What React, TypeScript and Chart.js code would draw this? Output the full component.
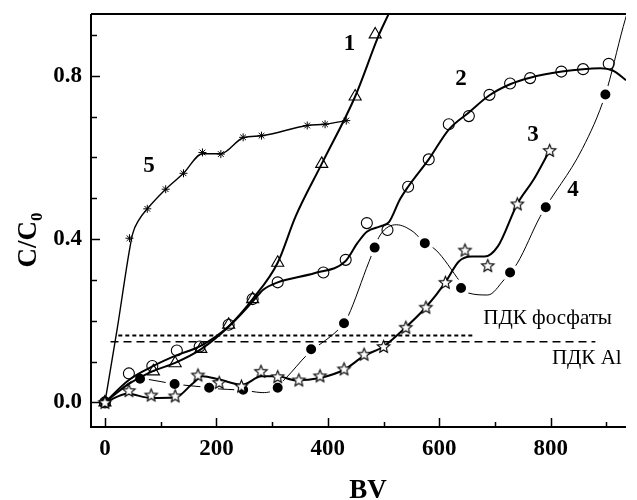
import React, { useEffect, useRef } from "react";
import { Chart, registerables } from "chart.js";

Chart.register(...registerables);

// ---- axis ticks ----
const xTickValues = [0, 100, 200, 300, 400, 500, 600, 700, 800, 900];
const xLabelValues = [0, 200, 400, 600, 800];
const yTickValues = [0, 0.1, 0.2, 0.3, 0.4, 0.5, 0.6, 0.7, 0.8, 0.9];
const yLabelValues = [0, 0.4, 0.8];

// ---- measured points (BV, C/C0) ----
const marks1: [number, number][] = [
  [0, 0], [87, 0.076], [126, 0.096], [172, 0.131], [222, 0.19], [265, 0.253],
  [310, 0.342], [389, 0.584], [449, 0.749], [485, 0.901],
];
const marks2: [number, number][] = [
  [0, 0], [43, 0.071], [85, 0.089], [129, 0.127], [170, 0.137], [222, 0.19],
  [265, 0.253], [310, 0.294], [392, 0.318], [432, 0.349], [470, 0.439],
  [507, 0.422], [544, 0.528], [581, 0.595], [617, 0.681], [653, 0.701],
  [690, 0.753], [727, 0.781], [763, 0.794], [819, 0.81], [858, 0.816], [904, 0.829],
];
const marks3: [number, number][] = [
  [0, 0], [43, 0.029], [83, 0.018], [126, 0.016], [167, 0.067], [205, 0.049],
  [245, 0.04], [280, 0.076], [310, 0.063], [348, 0.055], [386, 0.065],
  [429, 0.082], [465, 0.118], [500, 0.137], [540, 0.184], [576, 0.233],
  [611, 0.294], [646, 0.373], [687, 0.335], [740, 0.486], [798, 0.617],
];
const marks4: [number, number][] = [
  [0, 0], [63, 0.058], [125, 0.045], [187, 0.036], [248, 0.031], [310, 0.036],
  [370, 0.13], [429, 0.194], [484, 0.379], [574, 0.39], [639, 0.28],
  [727, 0.318], [791, 0.478], [898, 0.754],
];
const marks5: [number, number][] = [
  [0, 0], [44, 0.402], [76, 0.474], [109, 0.522], [141, 0.561], [175, 0.612],
  [208, 0.608], [248, 0.649], [281, 0.653], [363, 0.678], [395, 0.681], [433, 0.69],
];

// ---- fitted curves ----
const fit1: [number, number][] = [
  [0, 0], [43, 0.045], [87, 0.077], [126, 0.097], [172, 0.13], [222, 0.186],
  [265, 0.253], [310, 0.342], [342, 0.455], [389, 0.584], [449, 0.749],
  [492, 0.901], [512, 0.96], [530, 1.02],
];
const fit2: [number, number][] = [
  [0, 0], [43, 0.055], [85, 0.088], [128, 0.115], [170, 0.137], [222, 0.186],
  [265, 0.247], [284, 0.276], [310, 0.294], [377, 0.317], [431, 0.345],
  [453, 0.39], [470, 0.418], [494, 0.431], [510, 0.442], [529, 0.496],
  [544, 0.528], [581, 0.595], [617, 0.668], [653, 0.71], [690, 0.752],
  [727, 0.779], [763, 0.795], [820, 0.81], [858, 0.816], [889, 0.818],
  [912, 0.812], [935, 0.789],
];
const fit3: [number, number][] = [
  [0, 0], [41, 0.021], [82, 0.011], [126, 0.012], [158, 0.047], [175, 0.064],
  [205, 0.056], [246, 0.043], [281, 0.064], [310, 0.064], [342, 0.054],
  [386, 0.06], [429, 0.08], [465, 0.114], [500, 0.137], [540, 0.184],
  [576, 0.233], [611, 0.294], [635, 0.345], [658, 0.357], [681, 0.357],
  [705, 0.382], [740, 0.486], [769, 0.545], [798, 0.617],
];
const fit4: [number, number][] = [
  [0, 0], [63, 0.058], [79, 0.056], [108, 0.049], [137, 0.043], [175, 0.038],
  [205, 0.033], [234, 0.031], [263, 0.027], [282, 0.024], [298, 0.027],
  [325, 0.06], [363, 0.117], [429, 0.194], [436, 0.21], [474, 0.345],
  [494, 0.41], [523, 0.435], [553, 0.418], [574, 0.39], [594, 0.373],
  [637, 0.296], [652, 0.268], [687, 0.263], [716, 0.3], [740, 0.341],
  [781, 0.455], [857, 0.622], [898, 0.754], [930, 0.92], [945, 0.99],
];
const fit5: [number, number][] = [
  [0, 0], [22, 0.18], [44, 0.373], [50, 0.414], [61, 0.447], [76, 0.474],
  [109, 0.522], [141, 0.561], [175, 0.609], [208, 0.609], [248, 0.648],
  [281, 0.653], [363, 0.678], [395, 0.681], [433, 0.69],
];

// ---- reference (limit) lines ----
const pdkPhosphate: [number, number][] = [[24, 0.164], [662, 0.164]];
const pdkAl: [number, number][] = [[10, 0.1485], [880, 0.1485]];

// ---- annotations ----
const curveNames = ["1", "2", "3", "4", "5"];
const curveNameBV = [439, 639, 768, 840, 79];
const curveNameC = [0.878, 0.792, 0.655, 0.52, 0.579];
const limitNames = ["ПДК фосфаты", "ПДК Al"];
const limitNameBV = [679, 802];
const limitNameC = [0.205, 0.107];

const FONT = "'Liberation Serif', 'Times New Roman', serif";

const toXY = (a: [number, number][]) => a.map(([x, y]) => ({ x, y }));

function makeStar(r: number): HTMLCanvasElement {
  const size = Math.ceil(r * 2 + 4);
  const c = document.createElement("canvas");
  c.width = size;
  c.height = size;
  const ctx = c.getContext("2d")!;
  const cx = size / 2;
  const cy = size / 2 + 0.5;
  ctx.beginPath();
  for (let i = 0; i < 10; i++) {
    const ang = -Math.PI / 2 + (i * Math.PI) / 5;
    const rr = i % 2 === 0 ? r : r * 0.45;
    ctx.lineTo(cx + rr * Math.cos(ang), cy + rr * Math.sin(ang));
  }
  ctx.closePath();
  ctx.fillStyle = "#fff";
  ctx.fill();
  ctx.strokeStyle = "#000";
  ctx.lineWidth = 1.1;
  ctx.stroke();
  return c;
}

const overlayPlugin = {
  id: "overlay",
  afterDraw(chart: any) {
    const { ctx, chartArea } = chart;
    const { left, right, top, bottom } = chartArea;
    const xs = chart.scales.x;
    const ys = chart.scales.y;
    ctx.save();
    ctx.strokeStyle = "#000";
    ctx.lineWidth = 2;
    ctx.beginPath();
    ctx.moveTo(left, top);
    ctx.lineTo(right, top);
    ctx.moveTo(left, top);
    ctx.lineTo(left, bottom);
    ctx.lineTo(right, bottom);
    ctx.stroke();

    ctx.lineWidth = 1.5;
    ctx.beginPath();
    for (const v of xTickValues) {
      const px = Math.round(xs.getPixelForValue(v)) + 0.5;
      const len = xLabelValues.includes(v) ? 9 : 5;
      ctx.moveTo(px, bottom);
      ctx.lineTo(px, bottom - len);
    }
    for (const v of yTickValues) {
      const py = Math.round(ys.getPixelForValue(v)) + 0.5;
      const isMajor = yLabelValues.some((m) => Math.abs(m - v) < 1e-9);
      const len = isMajor ? 9 : 6;
      ctx.moveTo(left, py);
      ctx.lineTo(left + len, py);
    }
    ctx.stroke();

    ctx.fillStyle = "#000";
    ctx.font = `bold 23px ${FONT}`;
    ctx.textAlign = "center";
    ctx.textBaseline = "middle";
    curveNames.forEach((n, i) => {
      ctx.fillText(n, xs.getPixelForValue(curveNameBV[i]), ys.getPixelForValue(curveNameC[i]));
    });

    ctx.font = `21px ${FONT}`;
    ctx.textAlign = "left";
    limitNames.forEach((n, i) => {
      ctx.fillText(n, xs.getPixelForValue(limitNameBV[i]), ys.getPixelForValue(limitNameC[i]));
    });

    // x title
    ctx.font = `bold 27px ${FONT}`;
    ctx.textAlign = "center";
    ctx.textBaseline = "alphabetic";
    ctx.fillText("BV", 368, 498);

    // y title C/C0 (rotated)
    ctx.save();
    ctx.translate(36, 240);
    ctx.rotate(-Math.PI / 2);
    ctx.font = `bold 27px ${FONT}`;
    const w1 = ctx.measureText("C/C").width;
    ctx.font = `bold 17px ${FONT}`;
    const w2 = ctx.measureText("0").width;
    const start = -(w1 + w2) / 2;
    ctx.textAlign = "left";
    ctx.font = `bold 27px ${FONT}`;
    ctx.fillText("C/C", start, 0);
    ctx.font = `bold 17px ${FONT}`;
    ctx.fillText("0", start + w1, 6);
    ctx.restore();

    ctx.restore();
  },
};

export default function App() {
  const ref = useRef<HTMLCanvasElement | null>(null);

  useEffect(() => {
    if (!ref.current) return;
    const star = makeStar(6.5);
    const lineDs = (data: [number, number][], width: number, order: number, extra: any = {}) => ({
      data: toXY(data),
      borderColor: "#000",
      borderWidth: width,
      pointRadius: 0,
      pointHoverRadius: 0,
      fill: false,
      cubicInterpolationMode: "monotone",
      order,
      ...extra,
    });
    const markDs = (data: [number, number][], order: number, extra: any) => ({
      data: toXY(data),
      showLine: false,
      order,
      ...extra,
    });

    const chart = new Chart(ref.current, {
      type: "line",
      data: {
        datasets: [
          lineDs(fit4, 1, 30),
          markDs(marks4, 29, {
            pointStyle: "circle",
            pointRadius: 7,
            pointBackgroundColor: "#000",
            pointBorderColor: "#fff",
            pointBorderWidth: 4,
          }),
          lineDs(pdkPhosphate, 2, 25, { borderDash: [4, 3], cubicInterpolationMode: "default", tension: 0 }),
          lineDs(pdkAl, 1.5, 24, { borderDash: [8, 5], cubicInterpolationMode: "default", tension: 0 }),
          lineDs(fit5, 1.4, 20),
          markDs(marks5, 19, {
            pointStyle: "star",
            pointRadius: 4,
            pointBorderColor: "#000",
            pointBorderWidth: 1,
          }),
          lineDs(fit1, 2, 18),
          markDs(marks1, 17, {
            pointStyle: "triangle",
            pointRadius: 7,
            pointBackgroundColor: "rgba(0,0,0,0)",
            pointBorderColor: "#000",
            pointBorderWidth: 1.1,
          }),
          lineDs(fit2, 2, 16),
          markDs(marks2, 15, {
            pointStyle: "circle",
            pointRadius: 5.5,
            pointBackgroundColor: "rgba(0,0,0,0)",
            pointBorderColor: "#000",
            pointBorderWidth: 1.1,
          }),
          lineDs(fit3, 2, 14),
          markDs(marks3, 13, {
            pointStyle: star,
            pointRadius: 6,
          }),
        ] as any,
      },
      options: {
        animation: false,
        responsive: false,
        devicePixelRatio: 1,
        events: [],
        layout: { padding: { top: 14, right: 0, bottom: 0, left: 0 } },
        plugins: { legend: { display: false }, tooltip: { enabled: false } },
        scales: {
          x: {
            type: "linear",
            min: -25,
            max: 935,
            grid: { display: false, drawTicks: false },
            border: { display: false },
            ticks: {
              color: "#000",
              padding: 8,
              font: { family: FONT, size: 23, weight: "bold" },
              callback: (v: any) => String(v),
            },
            afterBuildTicks: (s: any) => {
              s.ticks = xLabelValues.map((v) => ({ value: v }));
            },
            afterFit: (s: any) => {
              s.height = 73;
              s.paddingLeft = 0;
              s.paddingRight = 0;
            },
          },
          y: {
            type: "linear",
            min: -0.0602,
            max: 0.951,
            grid: { display: false, drawTicks: false },
            border: { display: false },
            ticks: {
              color: "#000",
              padding: 9,
              font: { family: FONT, size: 23, weight: "bold" },
              callback: (v: any) => Number(v).toFixed(1),
            },
            afterBuildTicks: (s: any) => {
              s.ticks = yLabelValues.map((v) => ({ value: v }));
            },
            afterFit: (s: any) => {
              s.width = 91;
              s.paddingTop = 0;
              s.paddingBottom = 0;
            },
          },
        },
      } as any,
      plugins: [overlayPlugin],
    });
    return () => chart.destroy();
  }, []);

  return (
    <div style={{ position: "absolute", left: 0, top: 0, width: 637, height: 500, background: "#fff" }}>
      <canvas ref={ref} width={637} height={500} style={{ display: "block" }} />
    </div>
  );
}
